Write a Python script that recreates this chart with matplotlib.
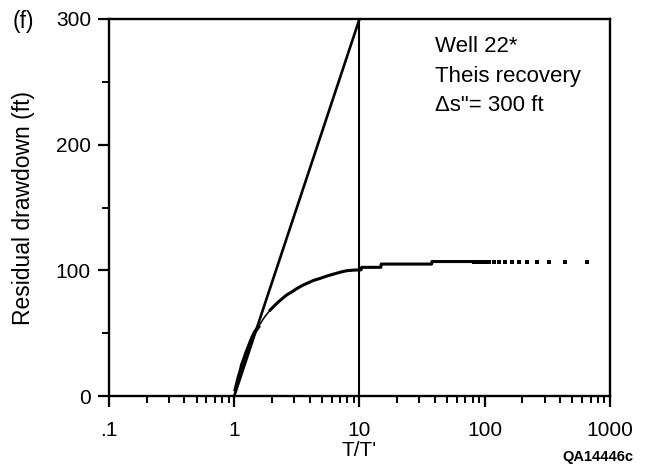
import matplotlib
import matplotlib.pyplot as plt
from matplotlib.ticker import FixedLocator, FixedFormatter, NullFormatter

matplotlib.use("Agg")
plt.rcParams['font.family'] = ['Liberation Sans', 'DejaVu Sans']

# residual drawdown vs T/T' (well 22)
ratio = [1.02, 1.05, 1.08, 1.12, 1.15, 1.20, 1.26, 1.32, 1.38, 1.46, 1.56,
         1.65, 1.75, 1.85, 1.94,
         2.1, 2.26, 2.45, 2.63, 2.9, 3.16, 3.5, 3.8, 4.3, 4.85, 5.5, 6.2,
         7.0, 7.9, 9.0, 10.3, 10.4, 12.0, 14.8, 14.9, 20.0, 28.0, 37.7,
         37.8, 44, 50, 57, 65, 73, 77, 82,
         88, 94, 101, 109, 119, 131, 146, 164, 187, 218, 261, 326, 434, 651]
drawdown = [5, 10, 15, 20, 25, 30, 36, 41, 46, 51, 55,
            59, 63, 66, 68.5,
            72, 75, 78, 80.5, 83, 85.5, 88, 89.6, 92, 93.6, 95.5, 97,
            98.5, 99.7, 100.2, 100.4, 102.4, 102.4, 102.4, 105, 105, 105, 105,
            107, 107, 107, 107, 107, 107, 107, 107,
            107, 107, 107, 107, 107, 107, 107, 107, 107, 107, 107, 107, 107, 107]

# straight-line fit, 300 ft per log cycle
fit_x = [1, 10]
fit_y = [0, 300]

x_ticks = [0.1, 1, 10, 100, 1000]
x_labels = ['.1', '1', '10', '100', '1000']
y_ticks = [0, 100, 200, 300]

fig = plt.figure(figsize=(6.46, 4.70), dpi=100)
ax = fig.add_axes([0.1687, 0.1574, 0.7756, 0.8022])

ax.plot(fit_x, fit_y, color='black', lw=1.9, solid_capstyle='butt')
ax.plot([10, 10], [0, 300], color='black', lw=1.5)

# dense part drawn as a line, sparse tail as dots
ax.plot(ratio[:11], drawdown[:11], color='black', lw=2.6)
ax.plot(ratio[10:15], drawdown[10:15], color='black', lw=1.1)
ax.plot(ratio[14:46], drawdown[14:46], color='black', lw=2.2)
ax.plot(ratio[45:], drawdown[45:], 's', color='black', ms=2.5, mew=0)

ax.set_xscale('log')
ax.set_xlim(0.1, 1000)
ax.set_ylim(0, 300)

ax.xaxis.set_major_locator(FixedLocator(x_ticks))
ax.xaxis.set_major_formatter(FixedFormatter(x_labels))
minors = [m * d for d in [0.1, 1, 10, 100] for m in range(2, 10)]
ax.xaxis.set_minor_locator(FixedLocator(minors))
ax.xaxis.set_minor_formatter(NullFormatter())
ax.yaxis.set_major_locator(FixedLocator(y_ticks))
ax.yaxis.set_minor_locator(FixedLocator([50, 150, 250]))

for s in ax.spines.values():
    s.set_linewidth(1.7)
ax.tick_params(which='major', direction='out', length=8, width=1.6,
               labelsize=15)
ax.tick_params(which='minor', direction='out', length=5, width=1.4)
ax.tick_params(axis='x', which='major', pad=10)
ax.tick_params(axis='y', which='major', pad=5)

ax.set_xlabel("T/T'", fontsize=15, labelpad=1)
ax.set_ylabel("Residual drawdown (ft)", fontsize=16.5, labelpad=15)

ax.text(0.651, 0.913, "Well 22*", transform=ax.transAxes, fontsize=16)
ax.text(0.651, 0.834, "Theis recovery", transform=ax.transAxes, fontsize=16)
ax.text(0.651, 0.756, "\u0394s\"= 300 ft", transform=ax.transAxes, fontsize=16)

fig.text(0.036, 0.955, "(f)", fontsize=16.5, va='center', ha='center')
fig.text(0.98, 0.027, "QA14446c", fontsize=10.5, fontweight='bold',
         ha='right', va='center')

fig.savefig('out.png', dpi=100)
